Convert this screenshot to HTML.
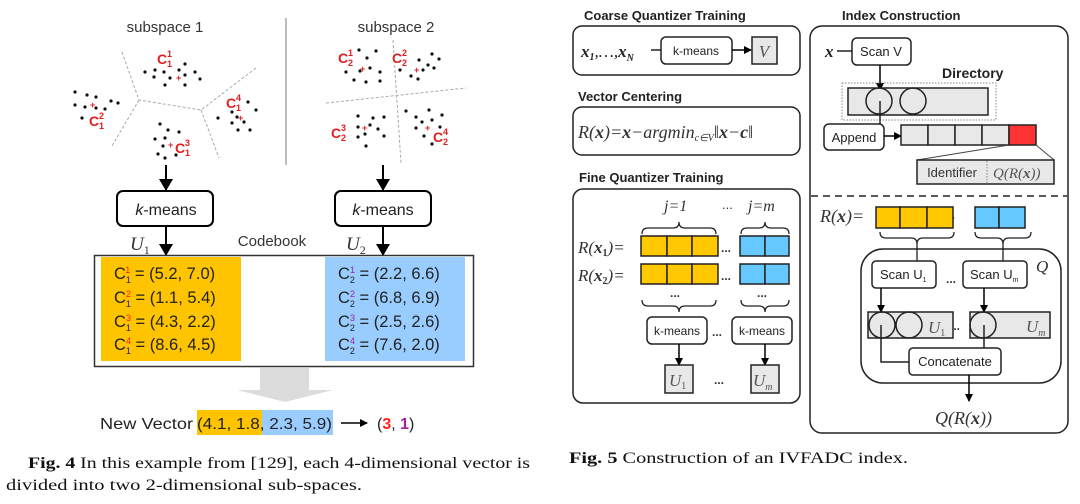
<!DOCTYPE html>
<html><head><meta charset="utf-8"><style>
html,body{margin:0;padding:0;background:#fff;}
svg{display:block;}
.s{font-family:"Liberation Sans",sans-serif;}
.m{font-family:"Liberation Serif",serif;font-style:italic;}
.r{font-family:"Liberation Serif",serif;}
</style></head><body>
<svg width="1080" height="504" viewBox="0 0 1080 504" xmlns="http://www.w3.org/2000/svg">
<defs>
<marker id="a" markerWidth="8" markerHeight="8" refX="7" refY="4" orient="auto" markerUnits="userSpaceOnUse"><path d="M0,0 L8,4 L0,8 z" fill="#000"/></marker>
<marker id="b" markerWidth="12" markerHeight="14" refX="11" refY="7" orient="auto" markerUnits="userSpaceOnUse"><path d="M0,0 L12,7 L0,14 z" fill="#000"/></marker>
</defs>
<!-- LEFT FIGURE -->
<text x="165" y="32" font-size="15" text-anchor="middle" class="s" fill="#333">subspace 1</text>
<text x="396" y="32" font-size="15" text-anchor="middle" class="s" fill="#333">subspace 2</text>
<line x1="286" y1="18" x2="286" y2="165" stroke="#777" stroke-width="1"/>
<g stroke="#aaa" stroke-width="1" stroke-dasharray="3,2" fill="none">
<path d="M122,52 L139,100 L201,110 L256,68 M139,100 L112,146 M201,110 L219,158"/>
<path d="M393,40 L401,163 M326,103 L466,88"/>
</g>
<g fill="#111">
<circle cx="145" cy="72" r="1.6"/><circle cx="155" cy="70" r="1.6"/><circle cx="164" cy="72" r="1.6"/><circle cx="170" cy="78" r="1.6"/><circle cx="179" cy="70" r="1.6"/><circle cx="185" cy="64" r="1.6"/><circle cx="185" cy="75" r="1.6"/><circle cx="195" cy="72" r="1.6"/><circle cx="200" cy="79" r="1.6"/><circle cx="185" cy="85" r="1.6"/><circle cx="165" cy="85" r="1.6"/><circle cx="154" cy="77" r="1.6"/>
<circle cx="75" cy="92" r="1.6"/><circle cx="87" cy="95" r="1.6"/><circle cx="96" cy="97" r="1.6"/><circle cx="75" cy="105" r="1.6"/><circle cx="85" cy="107" r="1.6"/><circle cx="96" cy="108" r="1.6"/><circle cx="105" cy="109" r="1.6"/><circle cx="111" cy="101" r="1.6"/><circle cx="118" cy="103" r="1.6"/><circle cx="82" cy="118" r="1.6"/>
<circle cx="160" cy="124" r="1.6"/><circle cx="168" cy="130" r="1.6"/><circle cx="179" cy="132" r="1.6"/><circle cx="155" cy="139" r="1.6"/><circle cx="165" cy="138" r="1.6"/><circle cx="163" cy="146" r="1.6"/><circle cx="158" cy="154" r="1.6"/><circle cx="165" cy="158" r="1.6"/><circle cx="176" cy="155" r="1.6"/>
<circle cx="218" cy="118" r="1.6"/><circle cx="232" cy="112" r="1.6"/><circle cx="248" cy="102" r="1.6"/><circle cx="256" cy="110" r="1.6"/><circle cx="237" cy="117" r="1.6"/><circle cx="244" cy="122" r="1.6"/><circle cx="232" cy="123" r="1.6"/><circle cx="238" cy="130" r="1.6"/><circle cx="250" cy="130" r="1.6"/>
<circle cx="359" cy="50" r="1.6"/><circle cx="376" cy="51" r="1.6"/><circle cx="367" cy="58" r="1.6"/><circle cx="346" cy="72" r="1.6"/><circle cx="360" cy="71" r="1.6"/><circle cx="370" cy="68" r="1.6"/><circle cx="380" cy="72" r="1.6"/><circle cx="354" cy="80" r="1.6"/><circle cx="366" cy="82" r="1.6"/><circle cx="380" cy="81" r="1.6"/>
<circle cx="432" cy="54" r="1.6"/><circle cx="419" cy="60" r="1.6"/><circle cx="439" cy="59" r="1.6"/><circle cx="428" cy="65" r="1.6"/><circle cx="434" cy="68" r="1.6"/><circle cx="423" cy="70" r="1.6"/><circle cx="400" cy="70" r="1.6"/><circle cx="411" cy="76" r="1.6"/><circle cx="418" cy="79" r="1.6"/>
<circle cx="358" cy="116" r="1.6"/><circle cx="373" cy="118" r="1.6"/><circle cx="384" cy="117" r="1.6"/><circle cx="358" cy="127" r="1.6"/><circle cx="370" cy="125" r="1.6"/><circle cx="378" cy="129" r="1.6"/><circle cx="365" cy="134" r="1.6"/><circle cx="358" cy="137" r="1.6"/><circle cx="384" cy="136" r="1.6"/><circle cx="366" cy="146" r="1.6"/>
<circle cx="406" cy="111" r="1.6"/><circle cx="429" cy="110" r="1.6"/><circle cx="442" cy="115" r="1.6"/><circle cx="416" cy="117" r="1.6"/><circle cx="422" cy="122" r="1.6"/><circle cx="432" cy="120" r="1.6"/><circle cx="416" cy="128" r="1.6"/><circle cx="440" cy="127" r="1.6"/><circle cx="424" cy="136" r="1.6"/><circle cx="432" cy="144" r="1.6"/>
</g>
<g fill="#e02020" font-family="Liberation Sans,sans-serif" font-weight="bold">
<text x="176" y="81" font-size="9">+</text><text x="90" y="108" font-size="9">+</text><text x="168" y="148" font-size="9">+</text><text x="238" y="121" font-size="9">+</text>
<text x="360" y="72" font-size="9">+</text><text x="414" y="73" font-size="9">+</text><text x="362" y="131" font-size="9">+</text><text x="425" y="131" font-size="9">+</text>
<g font-size="14"><text x="157" y="64">C</text><text x="89" y="126">C</text><text x="175" y="153">C</text><text x="226" y="108">C</text>
<text x="338" y="63">C</text><text x="392" y="63">C</text><text x="331" y="138">C</text><text x="433" y="142">C</text></g>
<g font-size="9"><text x="167" y="57">1</text><text x="167" y="67">1</text><text x="99" y="119">2</text><text x="99" y="129">1</text><text x="185" y="146">3</text><text x="185" y="156">1</text><text x="236" y="101">4</text><text x="236" y="111">1</text>
<text x="348" y="56">1</text><text x="348" y="66">2</text><text x="402" y="56">2</text><text x="402" y="66">2</text><text x="341" y="131">3</text><text x="341" y="141">2</text><text x="443" y="135">4</text><text x="443" y="145">2</text></g>
</g>
<g stroke="#000" stroke-width="2" fill="none">
<line x1="166" y1="165" x2="166" y2="190" marker-end="url(#b)"/>
<line x1="383" y1="165" x2="383" y2="190" marker-end="url(#b)"/>
<line x1="166" y1="226" x2="166" y2="255" marker-end="url(#b)"/>
<line x1="383" y1="226" x2="383" y2="255" marker-end="url(#b)"/>
<rect x="117" y="191" width="96" height="35" rx="6"/>
<rect x="335" y="191" width="96" height="35" rx="6"/>
</g>
<text x="166" y="215" font-size="16" text-anchor="middle" class="s" fill="#222"><tspan font-style="italic">k</tspan>-means</text>
<text x="383" y="215" font-size="16" text-anchor="middle" class="s" fill="#222"><tspan font-style="italic">k</tspan>-means</text>
<text x="130" y="250" font-size="19" class="m" fill="#333">U<tspan font-size="12" dy="4" font-style="normal">1</tspan></text>
<text x="346" y="250" font-size="19" class="m" fill="#333">U<tspan font-size="12" dy="4" font-style="normal">2</tspan></text>
<text x="272" y="246" font-size="15" text-anchor="middle" class="s" fill="#333">Codebook</text>
<rect x="94.5" y="255.5" width="379" height="111" fill="#fff" stroke="#333" stroke-width="1.5"/>
<rect x="101" y="257" width="140" height="104" fill="#ffc400"/>
<rect x="325" y="257" width="140" height="104" fill="#99ccff"/>
<g font-family="Liberation Sans,sans-serif" font-size="16.5" fill="#222">
<text x="114" y="279">C<tspan font-size="9" dy="4">1</tspan><tspan font-size="9" dy="-10" dx="-5" fill="#ff2020">1</tspan><tspan dy="6"> = (5.2, 7.0)</tspan></text>
<text x="114" y="303">C<tspan font-size="9" dy="4">1</tspan><tspan font-size="9" dy="-10" dx="-5" fill="#ff2020">2</tspan><tspan dy="6"> = (1.1, 5.4)</tspan></text>
<text x="114" y="327">C<tspan font-size="9" dy="4">1</tspan><tspan font-size="9" dy="-10" dx="-5" fill="#ff2020">3</tspan><tspan dy="6"> = (4.3, 2.2)</tspan></text>
<text x="114" y="350">C<tspan font-size="9" dy="4">1</tspan><tspan font-size="9" dy="-10" dx="-5" fill="#ff2020">4</tspan><tspan dy="6"> = (8.6, 4.5)</tspan></text>
<text x="338" y="279">C<tspan font-size="9" dy="4">2</tspan><tspan font-size="9" dy="-10" dx="-5" fill="#a020a0">1</tspan><tspan dy="6"> = (2.2, 6.6)</tspan></text>
<text x="338" y="303">C<tspan font-size="9" dy="4">2</tspan><tspan font-size="9" dy="-10" dx="-5" fill="#a020a0">2</tspan><tspan dy="6"> = (6.8, 6.9)</tspan></text>
<text x="338" y="327">C<tspan font-size="9" dy="4">2</tspan><tspan font-size="9" dy="-10" dx="-5" fill="#a020a0">3</tspan><tspan dy="6"> = (2.5, 2.6)</tspan></text>
<text x="338" y="350">C<tspan font-size="9" dy="4">2</tspan><tspan font-size="9" dy="-10" dx="-5" fill="#a020a0">4</tspan><tspan dy="6"> = (7.6, 2.0)</tspan></text>
</g>
<path d="M260,368 H309 V390 H333 L285,402 L237,390 H260 Z" fill="#dcdcdc"/>
<rect x="197" y="410" width="65" height="25" fill="#ffc400"/>
<rect x="262" y="410" width="71" height="25" fill="#99ccff"/>
<text x="100" y="429" font-size="16" class="s" fill="#222" textLength="93" lengthAdjust="spacingAndGlyphs">New Vector</text>
<text x="197" y="429" font-size="16" class="s" fill="#222" textLength="135" lengthAdjust="spacingAndGlyphs">(4.1, 1.8, 2.3, 5.9)</text>
<line x1="341" y1="423" x2="367" y2="423" stroke="#000" stroke-width="1.5" marker-end="url(#a)"/>
<text x="377" y="429" font-size="16" class="s" fill="#222">(<tspan fill="#ff2020" font-weight="bold">3</tspan>, <tspan fill="#a020a0" font-weight="bold">1</tspan>)</text>
<text x="28" y="468" font-size="16" class="r" fill="#111" textLength="502" lengthAdjust="spacingAndGlyphs"><tspan font-weight="bold">Fig. 4</tspan>  In this example from [129], each 4-dimensional vector is</text>
<text x="6" y="490" font-size="16" class="r" fill="#111" textLength="356" lengthAdjust="spacingAndGlyphs">divided into two 2-dimensional sub-spaces.</text>
<text x="569" y="463" font-size="16" class="r" fill="#111" textLength="339" lengthAdjust="spacingAndGlyphs"><tspan font-weight="bold">Fig. 5</tspan>  Construction of an IVFADC index.</text>

<!-- RIGHT FIGURE -->
<g font-family="Liberation Sans,sans-serif" font-weight="bold" font-size="13" fill="#222">
<text x="584" y="20">Coarse Quantizer Training</text>
<text x="578" y="101">Vector Centering</text>
<text x="579" y="182">Fine Quantizer Training</text>
<text x="842" y="20">Index Construction</text>
<text x="942" y="78" font-size="14">Directory</text>
</g>
<g stroke="#222" stroke-width="1.5" fill="none">
<rect x="573" y="26" width="227" height="49" rx="9"/>
<rect x="573" y="107" width="227" height="48" rx="9"/>
<rect x="573" y="189" width="227" height="214" rx="10"/>
<rect x="810" y="26" width="258" height="407" rx="12"/>
</g>
<text x="581" y="57" font-size="17" class="m" font-weight="bold" fill="#222">x<tspan font-size="10" dy="3">1</tspan><tspan dy="-3" font-weight="normal">,…,</tspan>x<tspan font-size="10" dy="4">N</tspan></text>
<line x1="651" y1="50" x2="661" y2="50" stroke="#222" stroke-width="1.5"/>
<rect x="661" y="37" width="71" height="27" rx="5" fill="#fff" stroke="#222" stroke-width="1.5"/>
<text x="696" y="55" font-size="12" text-anchor="middle" class="s" fill="#222">k-means</text>
<line x1="732" y1="50" x2="751" y2="50" stroke="#000" stroke-width="1.5" marker-end="url(#a)"/>
<rect x="752" y="37" width="25" height="27" fill="#e8e8e8" stroke="#222" stroke-width="1.5"/>
<text x="764" y="57" font-size="17" text-anchor="middle" class="m" fill="#555">V</text>
<text x="578" y="138" font-size="18" class="m" fill="#333">R(<tspan font-weight="bold">x</tspan>)=<tspan font-weight="bold">x</tspan>−argmin<tspan font-size="10" dy="3">c∈V</tspan><tspan dy="-3" font-style="normal">‖</tspan><tspan font-weight="bold">x</tspan>−<tspan font-weight="bold">c</tspan><tspan font-style="normal">‖</tspan></text>
<text x="664" y="211" font-size="16" class="m" fill="#333">j=1</text>
<text x="722" y="209" font-size="13" class="s" fill="#333">...</text>
<text x="748" y="211" font-size="16" class="m" fill="#333">j=m</text>
<g stroke="#222" stroke-width="1.3" fill="none">
<path d="M642,234 q0,-6 6,-6 h25 q6,0 6,-6 q0,6 6,6 h25 q6,0 6,6"/>
<path d="M741,234 q0,-6 6,-6 h12 q6,0 6,-6 q0,6 6,6 h12 q6,0 6,6"/>
<path d="M642,300 q0,6 6,6 h25 q6,0 6,6 q0,-6 6,-6 h25 q6,0 6,-6"/>
<path d="M741,300 q0,6 6,6 h12 q6,0 6,6 q0,-6 6,-6 h12 q6,0 6,-6"/>
</g>
<g stroke="#222" stroke-width="1.5">
<rect x="641" y="236" width="26" height="20" fill="#ffc800"/><rect x="667" y="236" width="25" height="20" fill="#ffc800"/><rect x="692" y="236" width="26" height="20" fill="#ffc800"/>
<rect x="740" y="236" width="25" height="20" fill="#66c8ff"/><rect x="765" y="236" width="24" height="20" fill="#66c8ff"/>
<rect x="641" y="264" width="26" height="20" fill="#ffc800"/><rect x="667" y="264" width="25" height="20" fill="#ffc800"/><rect x="692" y="264" width="26" height="20" fill="#ffc800"/>
<rect x="740" y="264" width="25" height="20" fill="#66c8ff"/><rect x="765" y="264" width="24" height="20" fill="#66c8ff"/>
</g>
<text x="578" y="253" font-size="17" class="m" fill="#333">R(<tspan font-weight="bold">x</tspan><tspan font-size="10" dy="3" font-style="normal" font-weight="bold">1</tspan><tspan dy="-3">)=</tspan></text>
<text x="578" y="281" font-size="17" class="m" fill="#333">R(<tspan font-weight="bold">x</tspan><tspan font-size="10" dy="3" font-style="normal" font-weight="bold">2</tspan><tspan dy="-3">)=</tspan></text>
<g font-family="Liberation Sans,sans-serif" font-size="12" font-weight="bold" fill="#333">
<text x="721" y="252">...</text><text x="721" y="280">...</text><text x="670" y="297">...</text><text x="757" y="297">...</text><text x="712" y="336">...</text><text x="714" y="384">...</text><text x="945" y="219">...</text><text x="946" y="283">...</text><text x="950" y="330">...</text>
</g>
<rect x="647" y="317" width="60" height="27" rx="5" fill="#fff" stroke="#222" stroke-width="1.5"/>
<rect x="732" y="317" width="60" height="27" rx="5" fill="#fff" stroke="#222" stroke-width="1.5"/>
<text x="677" y="335" font-size="12" text-anchor="middle" class="s" fill="#222">k-means</text>
<text x="762" y="335" font-size="12" text-anchor="middle" class="s" fill="#222">k-means</text>
<line x1="679" y1="344" x2="679" y2="365" stroke="#000" stroke-width="1.5" marker-end="url(#a)"/>
<line x1="765" y1="344" x2="765" y2="365" stroke="#000" stroke-width="1.5" marker-end="url(#a)"/>
<rect x="665" y="365" width="28" height="28" fill="#e8e8e8" stroke="#222" stroke-width="1.5"/>
<rect x="751" y="365" width="28" height="28" fill="#e8e8e8" stroke="#222" stroke-width="1.5"/>
<text x="669" y="386" font-size="17" class="m" fill="#555">U<tspan font-size="10" dy="3" font-style="normal">1</tspan></text>
<text x="753" y="386" font-size="17" class="m" fill="#555">U<tspan font-size="10" dy="4">m</tspan></text>
<text x="825" y="57" font-size="17" class="m" font-weight="bold" fill="#222">x</text>
<line x1="837" y1="51" x2="852" y2="51" stroke="#222" stroke-width="1.5"/>
<rect x="852" y="38" width="59" height="27" rx="5" fill="#fff" stroke="#222" stroke-width="1.5"/>
<text x="881" y="56" font-size="13" text-anchor="middle" class="s" fill="#222">Scan V</text>
<line x1="880" y1="65" x2="880" y2="90" stroke="#000" stroke-width="1.5" marker-end="url(#a)"/>
<rect x="842" y="83" width="154" height="37" fill="none" stroke="#888" stroke-width="1" stroke-dasharray="1.5,1.5"/>
<rect x="848" y="88" width="140" height="27" fill="#e8e8e8" stroke="#222" stroke-width="1.5"/>
<circle cx="879" cy="101" r="13" fill="none" stroke="#222" stroke-width="1.5"/>
<circle cx="913" cy="101" r="13" fill="none" stroke="#222" stroke-width="1.5"/>
<line x1="880" y1="101" x2="880" y2="124" stroke="#222" stroke-width="1.5"/>
<rect x="824" y="124" width="60" height="26" rx="5" fill="#fff" stroke="#222" stroke-width="1.5"/>
<text x="854" y="142" font-size="13" text-anchor="middle" class="s" fill="#222">Append</text>
<line x1="884" y1="136" x2="901" y2="136" stroke="#000" stroke-width="1.5" marker-end="url(#a)"/>
<g stroke="#222" stroke-width="1.5">
<rect x="901" y="125" width="27" height="20" fill="#e8e8e8"/><rect x="928" y="125" width="27" height="20" fill="#e8e8e8"/><rect x="955" y="125" width="27" height="20" fill="#e8e8e8"/><rect x="982" y="125" width="27" height="20" fill="#e8e8e8"/><rect x="1009" y="125" width="27" height="20" fill="#ff3333"/>
</g>
<line x1="1009" y1="145" x2="917" y2="160" stroke="#444" stroke-width="1"/>
<line x1="1036" y1="145" x2="1054" y2="160" stroke="#444" stroke-width="1"/>
<rect x="917" y="160" width="137" height="24" fill="#e8e8e8" stroke="#222" stroke-width="1.5"/>
<line x1="987" y1="161" x2="987" y2="183" stroke="#888" stroke-dasharray="1.5,1.5"/>
<text x="952" y="177" font-size="13" text-anchor="middle" class="s" fill="#333">Identifier</text>
<text x="993" y="178" font-size="15" class="m" fill="#555">Q(R(<tspan font-weight="bold">x</tspan>))</text>
<line x1="811" y1="196" x2="1067" y2="196" stroke="#222" stroke-width="1.5" stroke-dasharray="7,5"/>
<text x="820" y="222" font-size="18" class="m" fill="#333">R(<tspan font-weight="bold">x</tspan>)=</text>
<g stroke="#222" stroke-width="1.5">
<rect x="876" y="207" width="24" height="21" fill="#ffc800"/><rect x="900" y="207" width="27" height="21" fill="#ffc800"/><rect x="927" y="207" width="26" height="21" fill="#ffc800"/>
<rect x="975" y="207" width="24" height="21" fill="#66c8ff"/><rect x="999" y="207" width="26" height="21" fill="#66c8ff"/>
</g>
<g stroke="#222" stroke-width="1.3" fill="none">
<path d="M880,232 q0,6 6,6 h25 q6,0 6,6 q0,-6 6,-6 h25 q6,0 6,-6"/>
<path d="M975,232 q0,6 6,6 h16 q6,0 6,6 q0,-6 6,-6 h16 q6,0 6,-6"/>
<line x1="917" y1="244" x2="917" y2="261"/>
<line x1="1003" y1="244" x2="1003" y2="261"/>
</g>
<rect x="861" y="249" width="200" height="134" rx="22" fill="none" stroke="#222" stroke-width="1.5"/>
<text x="1036" y="272" font-size="17" class="m" fill="#333">Q</text>
<rect x="872" y="261" width="64" height="27" rx="4" fill="#fff" stroke="#222" stroke-width="1.5"/>
<rect x="963" y="261" width="64" height="27" rx="4" fill="#fff" stroke="#222" stroke-width="1.5"/>
<text x="880" y="279" font-size="13" class="s" fill="#222">Scan U<tspan font-size="7" dy="3">1</tspan></text>
<text x="970" y="279" font-size="13" class="s" fill="#222">Scan U<tspan font-size="7" dy="3">m</tspan></text>
<line x1="881" y1="288" x2="881" y2="312" stroke="#000" stroke-width="1.5" marker-end="url(#a)"/>
<line x1="984" y1="288" x2="984" y2="312" stroke="#000" stroke-width="1.5" marker-end="url(#a)"/>
<rect x="868" y="312" width="85" height="26" fill="#e8e8e8" stroke="#222" stroke-width="1.5"/>
<rect x="970" y="312" width="80" height="26" fill="#e8e8e8" stroke="#222" stroke-width="1.5"/>
<circle cx="882" cy="325" r="13" fill="none" stroke="#222" stroke-width="1.5"/>
<circle cx="909" cy="325" r="13" fill="none" stroke="#222" stroke-width="1.5"/>
<circle cx="983" cy="325" r="13" fill="none" stroke="#222" stroke-width="1.5"/>
<text x="928" y="333" font-size="17" class="m" fill="#555">U<tspan font-size="10" dy="3" font-style="normal">1</tspan></text>
<text x="1026" y="332" font-size="17" class="m" fill="#555">U<tspan font-size="10" dy="4">m</tspan></text>
<path d="M881,325 V362 H909 M984,325 V348" fill="none" stroke="#222" stroke-width="1.5"/>
<rect x="909" y="348" width="92" height="27" rx="4" fill="#fff" stroke="#222" stroke-width="1.5"/>
<text x="955" y="366" font-size="13" text-anchor="middle" class="s" fill="#222">Concatenate</text>
<line x1="969" y1="375" x2="969" y2="401" stroke="#000" stroke-width="1.5" marker-end="url(#a)"/>
<text x="935" y="424" font-size="18" class="m" fill="#333">Q(R(<tspan font-weight="bold">x</tspan>))</text>
</svg>
</body></html>
